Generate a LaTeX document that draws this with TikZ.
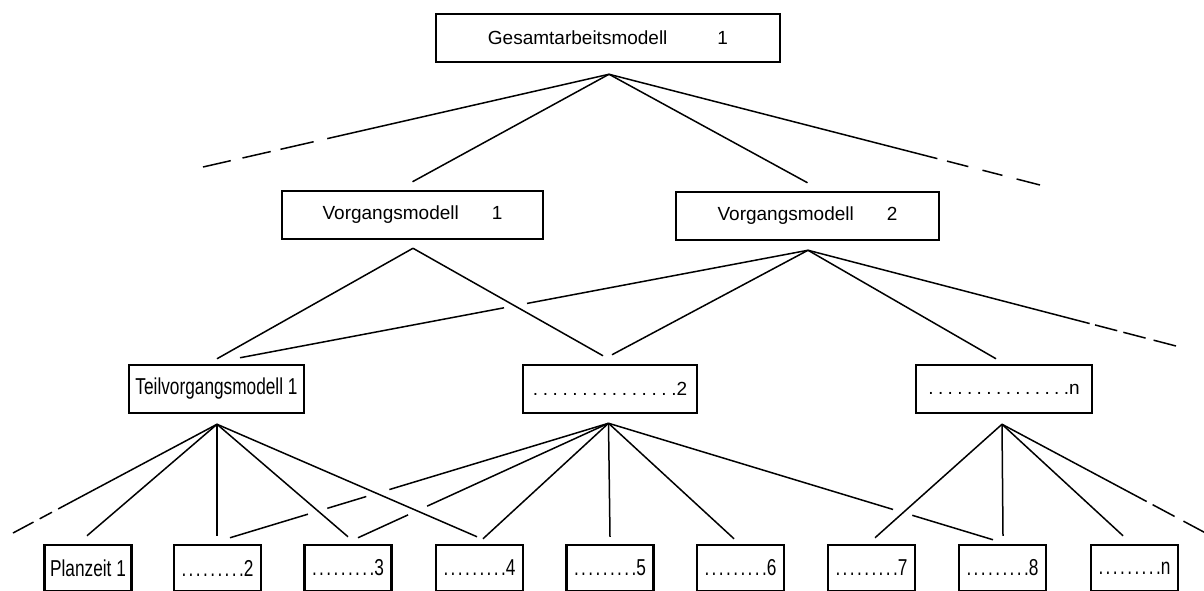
\documentclass[tikz,border=0pt]{standalone}
\usepackage{fontspec}
\setmainfont{Liberation Sans}
\usepackage{graphicx}
\usetikzlibrary{calc}

% a run of #1 dots, #2 of extra space between neighbours
\newcommand\dotlead[2]{\foreach \k in {2,...,#1}{.\hspace{#2}}.}
\newcommand\upfont{\fontsize{19}{22}\selectfont}
\newcommand\midfont{\fontsize{19}{22}\selectfont}
\newcommand\lowtext[1]{\scalebox{0.75}[1]{\fontsize{23}{26}\selectfont #1}}

\begin{document}
\begin{tikzpicture}[x=1pt, y=-1pt,
  box/.style={draw, line width=2.5pt, inner sep=0pt, minimum height=48pt},
  leaf/.style={box, minimum width=87pt, minimum height=46pt},
  link/.style={line width=1.5pt}]
\useasboundingbox (0,0) rectangle (1204,590);
\fill[white] (0,0) rectangle (1204,590);
\clip (0,0) rectangle (1204,590);

% ---- boxes ----
\node[box, minimum width=344pt] (g)  at (608,38)    {\upfont Gesamtarbeitsmodell\hspace{50pt}1};
\node[box, minimum width=261pt] (v1) at (412.5,215) {\upfont Vorgangsmodell\hspace{33pt}1};
\node[box, minimum width=263pt] (v2) at (807.5,216) {\upfont Vorgangsmodell\hspace{33pt}2};
\node[box, minimum width=175pt] (t1) at (216.5,389) {\lowtext{Teilvorgangsmodell 1}};
\node[box, minimum width=174pt] (t2) at (610,389)   {\midfont\dotlead{15}{4.6pt}2};
\node[box, minimum width=176pt] (tn) at (1004,389)  {\midfont\dotlead{15}{4.4pt}n};

\node[leaf] (p1) at (88,568)     {\lowtext{Planzeit 1}};
\node[leaf] (p2) at (217.5,568)  {\lowtext{\dotlead{9}{3.2pt}2}};
\node[leaf] (p3) at (348,568)    {\lowtext{\dotlead{9}{3.2pt}3}};
\node[leaf] (p4) at (479.5,568)  {\lowtext{\dotlead{9}{3.2pt}4}};
\node[leaf] (p5) at (610,568)    {\lowtext{\dotlead{9}{3.2pt}5}};
\node[leaf] (p6) at (740.5,568)  {\lowtext{\dotlead{9}{3.2pt}6}};
\node[leaf] (p7) at (871.5,568)  {\lowtext{\dotlead{9}{3.2pt}7}};
\node[leaf] (p8) at (1002.5,568) {\lowtext{\dotlead{9}{3.2pt}8}};
\node[leaf] (pn) at (1134.5,568) {\lowtext{\dotlead{9}{3.2pt}n}};

% ---- fan-out points below each parent ----
\coordinate (ga)  at ($(g.south)+(1,11)$);
\coordinate (v1a) at ($(v1.south)+(0.5,8)$);
\coordinate (v2a) at ($(v2.south)+(0.5,9)$);
\coordinate (t1a) at ($(t1.south)+(0.5,10)$);
\coordinate (t2a) at ($(t2.south)+(-1.5,9)$);
\coordinate (tna) at ($(tn.south)+(-2,10)$);

% ---- free ends of the open branches ----
\coordinate (gl)  at (203,167);
\coordinate (gr)  at (1040,185);
\coordinate (v2r) at (1176,346);
\coordinate (t1l) at (13,533);
\coordinate (tnr) at (1215,538);

% ---- line ends above the children ----
\coordinate (e-g-v1)  at ($(v1.north)+(0,-8)$);
\coordinate (e-g-v2)  at ($(v2.north)+(0,-8)$);
\coordinate (e-v1-t1) at ($(t1.north)+(0.5,-5)$);
\coordinate (e-v1-t2) at ($(t2.north)+(-7,-8)$);
\coordinate (e-v2-t1) at ($(t1.north)+(23.5,-6)$);
\coordinate (e-v2-t2) at ($(t2.north)+(2,-9)$);
\coordinate (e-v2-tn) at ($(tn.north)+(-8,-5)$);
\coordinate (e-t1-p1) at ($(p1.north)+(-1,-8)$);
\coordinate (e-t1-p2) at ($(p2.north)+(-0.5,-8)$);
\coordinate (e-t1-p3) at ($(p3.north)+(0,-7)$);
\coordinate (e-t1-p4) at ($(p4.north)+(-2.5,-7)$);
\coordinate (e-t2-p2) at ($(p2.north)+(12.5,-6)$);
\coordinate (e-t2-p3) at ($(p3.north)+(10,-6)$);
\coordinate (e-t2-p4) at ($(p4.north)+(3.5,-5)$);
\coordinate (e-t2-p5) at ($(p5.north)+(0,-7)$);
\coordinate (e-t2-p6) at ($(p6.north)+(-6.5,-5)$);
\coordinate (e-t2-p8) at ($(p8.north)+(-9.5,-4)$);
\coordinate (e-tn-p7) at ($(p7.north)+(3.5,-6)$);
\coordinate (e-tn-p8) at ($(p8.north)+(0.5,-8)$);
\coordinate (e-tn-pn) at ($(pn.north)+(-11.5,-8)$);

% ---- level 1 ----
\draw[link] (ga) -- (e-g-v1);
\draw[link] (ga) -- (e-g-v2);
\draw[link, dash pattern=on 289pt off 14pt on 34pt off 10pt on 29pt off 12pt on 40pt] (ga) -- (gl);
\draw[link, dash pattern=on 339pt off 10pt on 22pt off 14.6pt on 20.6pt off 14.6pt on 30pt] (ga) -- (gr);

% ---- level 2 ----
\draw[link] (v1a) -- (e-v1-t1);
\draw[link] (v1a) -- (e-v1-t2);
\draw[link] (v2a) -- ($(v2a)!0.4947!(e-v2-t1)$) ($(v2a)!0.5352!(e-v2-t1)$) -- (e-v2-t1);
\draw[link] (v2a) -- (e-v2-t2);
\draw[link] (v2a) -- (e-v2-tn);
\draw[link, dash pattern=on 291pt off 5.5pt on 23pt off 6.3pt on 23pt off 8.3pt on 30pt] (v2a) -- (v2r);

% ---- level 3 ----
\draw[link, dash pattern=on 180pt off 7pt on 14pt off 7pt on 40pt] (t1a) -- (t1l);
\draw[link] (t1a) -- (e-t1-p1);
\draw[link] (t1a) -- (e-t1-p2);
\draw[link] (t1a) -- (e-t1-p3);
\draw[link] (t1a) -- (e-t1-p4);

\draw[link] (t2a) -- ($(t2a)!0.579!(e-t2-p2)$) ($(t2a)!0.640!(e-t2-p2)$) -- ($(t2a)!0.743!(e-t2-p2)$) ($(t2a)!0.794!(e-t2-p2)$) -- (e-t2-p2);
\draw[link] (t2a) -- ($(t2a)!0.724!(e-t2-p3)$) ($(t2a)!0.800!(e-t2-p3)$) -- (e-t2-p3);
\draw[link] (t2a) -- (e-t2-p4);
\draw[link] (t2a) -- (e-t2-p5);
\draw[link] (t2a) -- (e-t2-p6);
\draw[link] (t2a) -- ($(t2a)!0.740!(e-t2-p8)$) ($(t2a)!0.790!(e-t2-p8)$) -- (e-t2-p8);

\draw[link] (tna) -- (e-tn-p7);
\draw[link] (tna) -- (e-tn-p8);
\draw[link] (tna) -- (e-tn-pn);
\draw[link, dash pattern=on 164pt off 6.7pt on 25pt off 10pt on 60pt] (tna) -- (tnr);
\end{tikzpicture}
\end{document}
